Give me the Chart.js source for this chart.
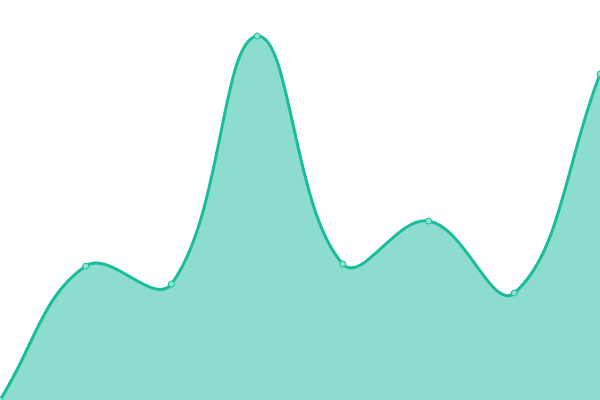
<!DOCTYPE html>
<html>
<head>
<meta charset="utf-8">
<script src="https://cdn.jsdelivr.net/npm/chart.js@4"></script>
<style>
  html, body { margin: 0; padding: 0; background: #fff; }
  #wrap { width: 600px; height: 400px; }
</style>
</head>
<body>
<div id="wrap"><canvas id="chart"></canvas></div>
<script>
// Data
const labels = ['1', '2', '3', '4', '5', '6', '7', '8'];
const values = [0, 33.5, 29, 91, 34, 44.75, 26.75, 81.5];

const ctx = document.getElementById('chart').getContext('2d');
new Chart(ctx, {
  type: 'line',
  data: {
    labels: labels,
    datasets: [{
      data: values,
      borderColor: '#1ABC9C',
      backgroundColor: 'rgba(26, 188, 156, 0.5)',
      borderWidth: 3,
      fill: true,
      tension: 0.4,
      pointRadius: 3,
      pointBorderWidth: 1,
      pointBackgroundColor: '#8FE3D2',
      pointBorderColor: '#1ABC9C'
    }]
  },
  options: {
    responsive: true,
    maintainAspectRatio: false,
    animation: false,
    layout: { padding: 0, autoPadding: false },
    plugins: { legend: { display: false }, tooltip: { enabled: false } },
    scales: {
      x: { display: false },
      y: { display: false, min: 0, max: 100 }
    }
  }
});
</script>
</body>
</html>
